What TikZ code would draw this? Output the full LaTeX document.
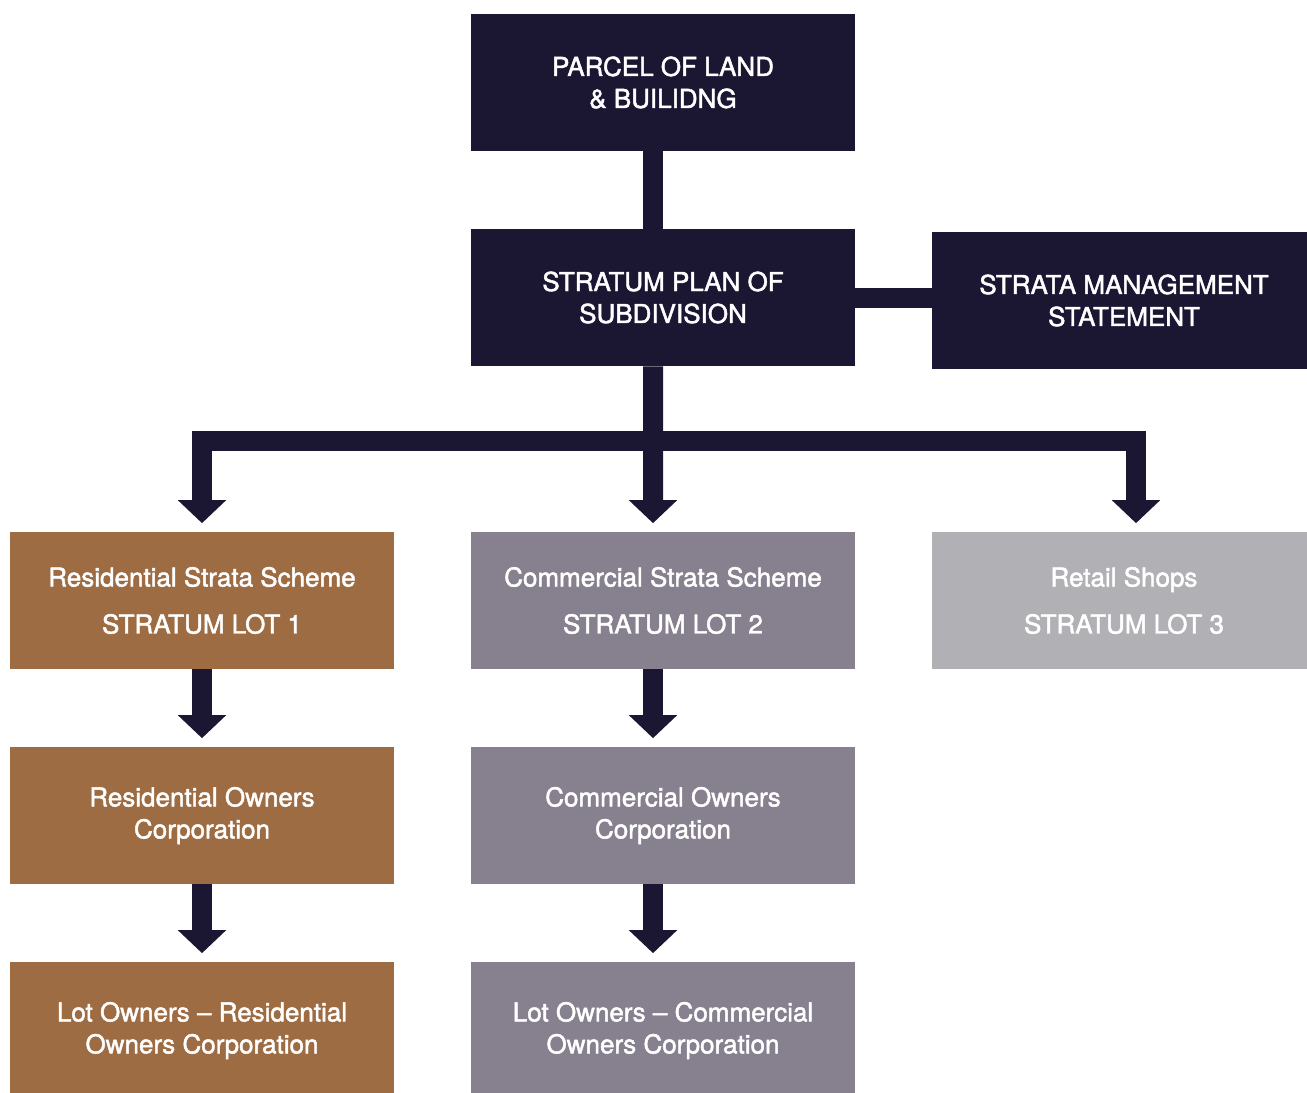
\documentclass[tikz,border=0pt]{standalone}
\usepackage{fontspec}
\setmainfont{TeX Gyre Heros}[FakeBold=1.8]
\usetikzlibrary{arrows.meta,positioning,calc}
\definecolor{Navy}{HTML}{1B1733}
\definecolor{Clay}{HTML}{9D6C43}
\definecolor{Mauve}{HTML}{87808F}
\definecolor{Mist}{HTML}{B1B1B5}
\tikzset{
 card/.style={fill=Navy,text=white,align=center,minimum width=7.68cm,minimum height=2.74cm,inner sep=0pt,font=\fontsize{14.8}{18.2}\selectfont},
 resi/.style={card,fill=Clay},
 comm/.style={card,fill=Mauve},
 shop/.style={card,fill=Mist},
 bar/.style={draw=Navy,line width=4mm},
 flow/.style={bar,-{Triangle[width=9.4mm,length=4.6mm]},shorten >=1.7mm}
}

\begin{document}
\begin{tikzpicture}[x=.2mm,y=-.2mm]
\useasboundingbox (0,0) rectangle (1307,1092);
% top of the tree
\node[card] (parcel) at (663,82.5) {PARCEL OF LAND\\\& BUILIDNG};
\node[card] (plan) at (663,297.5) {STRATUM PLAN OF\\SUBDIVISION};
\node[card] (sms) at (1124,300.5) {STRATA MANAGEMENT\\STATEMENT};
% the three schemes
\node[resi] (reslot) at (202,600.5) {Residential Strata Scheme\\[3mm]STRATUM LOT 1};
\node[comm] (comlot) at (663,600.5) {Commercial Strata Scheme\\[3mm]STRATUM LOT 2};
\node[shop] (shoplot) at (1124,600.5) {Retail Shops\\[3mm]STRATUM LOT 3};
\node[resi] (resoc) at (202,815.5) {Residential Owners\\Corporation};
\node[comm] (comoc) at (663,815.5) {Commercial Owners\\Corporation};
\node[resi] (resown) at (202,1030.5) {Lot Owners -- Residential\\Owners Corporation};
\node[comm] (comown) at (663,1030.5) {Lot Owners -- Commercial\\Owners Corporation};
% connectors
\draw[bar] ([xshift=-2mm]parcel.south) -- ([xshift=-2mm]plan.north);
\draw[bar] (plan.east) -- (plan.east -| sms.west);
\coordinate (fork) at (653,441);
\draw[bar] ([xshift=-2mm]plan.south) -- (fork);
\draw[flow] (fork) -| (reslot.north);
\draw[flow] (fork) -- ([xshift=-2mm]comlot.north);
\draw[flow] (fork) -| ([xshift=2.4mm]shoplot.north);
\draw[flow] (reslot) -- (resoc);
\draw[flow] (resoc) -- (resown);
\draw[flow] ([xshift=-2mm]comlot.south) -- ([xshift=-2mm]comoc.north);
\draw[flow] ([xshift=-2mm]comoc.south) -- ([xshift=-2mm]comown.north);
\end{tikzpicture}
\end{document}
